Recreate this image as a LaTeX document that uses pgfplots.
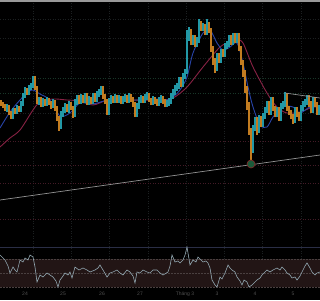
\documentclass[border=0pt]{standalone}
\usepackage{pgfplots}
\pgfplotsset{compat=1.18}
\usepackage{fontspec}
\setmainfont{Liberation Sans}
\definecolor{upc}{HTML}{2298A6}
\definecolor{dnc}{HTML}{C27C20}
\definecolor{gridc}{HTML}{1C2021}
\definecolor{grnl}{HTML}{183628}
\definecolor{redl}{HTML}{431A26}
\definecolor{mablue}{HTML}{2844A8}
\definecolor{mared}{HTML}{882244}
\definecolor{rsic}{HTML}{93A8B2}
\definecolor{bandc}{HTML}{221515}
\definecolor{sepc}{HTML}{2A2E46}
\definecolor{labc}{HTML}{505050}
\definecolor{circf}{HTML}{1B5A3A}
\definecolor{circd}{HTML}{8A2A2A}
\definecolor{bandl}{HTML}{4A4040}
\begin{document}
\begin{tikzpicture}
\fill[black] (0,0) rectangle (320pt,300pt);
\begin{axis}[
  scale only axis, width=320pt, height=300pt,
  xmin=0, xmax=320, ymin=0, ymax=300, y dir=reverse,
  hide axis, clip=true,
]
% top line
\addplot[color=gray!80, line width=1.5pt] coordinates {(0,1) (320,1)};
% vertical grid
\foreach \vx in {33,71,109,148,186,224,262,301} {
  \edef\tmp{\noexpand\addplot[gridc, line width=0.6pt, dash pattern=on 1pt off 1.5pt] coordinates {(\vx,3) (\vx,288)};}
  \tmp
}
% horizontal levels
\foreach \hy in {19,38,58,113} {
  \edef\tmp{\noexpand\addplot[gridc, line width=0.6pt, dash pattern=on 1pt off 1.5pt] coordinates {(0,\hy) (320,\hy)};}
  \tmp
}
\foreach \hy in {78,93} {
  \edef\tmp{\noexpand\addplot[grnl, line width=0.6pt, dash pattern=on 1pt off 1.5pt] coordinates {(0,\hy) (320,\hy)};}
  \tmp
}
\foreach \hy in {141,165,183,219} {
  \edef\tmp{\noexpand\addplot[redl, line width=0.6pt, dash pattern=on 1pt off 1.5pt] coordinates {(0,\hy) (320,\hy)};}
  \tmp
}
% separator
\addplot[sepc, line width=0.8pt] coordinates {(0,247) (320,247)};
% RSI band
\addplot[draw=none, fill=bandc] coordinates {(0,259) (320,259) (320,287) (0,287)} --cycle;
\addplot[bandl, line width=0.5pt, dash pattern=on 1.5pt off 1.5pt] coordinates {(0,259) (320,259)};
\addplot[bandl, line width=0.5pt, dash pattern=on 1.5pt off 1.5pt] coordinates {(0,273) (320,273)};
\addplot[bandl, line width=0.5pt, dash pattern=on 1.5pt off 1.5pt] coordinates {(0,287) (320,287)};
% long trendline
\addplot[gray!85, line width=0.7pt] coordinates {(0,200) (320,155)};
% MAs
\addplot[mared, line width=0.9pt, smooth] coordinates {(0,147) (10,138) (20,130) (33,110) (40,102) (53,99) (67,100) (80,101) (93,105) (107,100) (120,97) (133,100) (160,100) (173,98) (187,87) (203,67) (220,47) (230,42) (237,40) (243,43) (253,67) (267,93) (277,107) (287,113) (300,112) (313,107) (320,107)};
\addplot[mablue, line width=0.9pt, smooth] coordinates {(0,128) (10,112) (20,100) (28,92) (33,90) (40,94) (50,100) (60,116) (70,113) (80,103) (93,104) (107,100) (120,97) (133,100) (160,99) (167,100) (174,96) (180,90) (187,77) (193,53) (203,33) (210,30) (217,43) (223,50) (230,47) (237,43) (243,63) (248,87) (253,107) (260,125) (267,127) (273,117) (283,107) (293,107) (300,113) (310,107) (320,107)};
% down candles
\addplot[dnc, line width=1.05pt, quiver={u=0, v=\thisrow{b}-\thisrow{t}}] table[x=x, y=t] {
x t b
1 100 106
3 102 108
5 104 111
9 105 115
11 111 119
15 108 114
19 106 112
27 88 95
35 76 90
37 86 104
41 97 107
45 99 106
49 98 105
51 101 109
55 100 111
57 106 121
59 116 131
67 104 112
71 102 110
73 106 118
79 95 104
83 95 103
87 93 105
91 97 104
95 93 102
103 86 99
105 94 104
107 99 115
113 96 103
117 95 103
121 96 104
127 95 103
131 94 102
133 97 107
135 102 117
143 96 103
149 93 102
151 98 105
155 97 104
157 99 106
163 96 104
165 99 107
181 77 87
191 29 45
195 35 47
201 21 31
205 24 35
209 22 33
211 28 52
213 46 65
215 58 73
219 53 63
223 49 57
231 35 45
235 33 43
239 33 51
241 46 65
243 60 77
245 70 93
247 86 110
249 102 135
251 128 160
257 117 135
261 116 127
269 101 115
273 97 111
275 106 117
279 107 121
287 93 111
289 106 115
291 110 119
293 114 124
297 107 117
299 112 121
309 95 107
311 101 113
315 97 107
317 102 115
};
% up candles
\addplot[upc, line width=1.05pt, quiver={u=0, v=\thisrow{b}-\thisrow{t}}] table[x=x, y=t] {
x t b
7 104 112
13 108 119
17 105 114
21 101 112
23 93 106
25 87 98
29 85 95
31 83 90
33 76 88
39 97 105
43 98 107
47 97 106
53 99 108
61 111 129
63 107 117
65 103 113
69 101 113
75 99 117
77 95 105
81 94 104
85 93 103
89 96 105
93 93 104
97 91 102
99 89 97
101 86 95
109 98 115
111 95 104
115 94 103
119 95 103
123 96 104
125 94 102
129 93 103
137 103 117
139 97 109
141 95 103
145 94 103
147 92 100
153 96 105
159 97 106
161 95 103
167 100 107
169 98 106
171 93 104
173 89 99
175 85 95
177 83 91
179 77 89
183 73 87
185 69 79
187 30 74
189 27 41
193 35 45
197 37 47
199 19 43
203 23 31
207 19 35
217 53 71
221 49 63
225 43 57
227 41 49
229 35 47
233 33 45
237 33 43
253 125 153
255 117 131
259 115 133
263 113 127
265 107 119
267 101 113
271 97 115
277 107 117
281 103 121
283 101 109
285 92 107
295 107 123
301 105 121
303 101 111
305 99 107
307 95 105
313 97 113
319 105 115
};
% short trendline
\addplot[gray!85, line width=0.7pt] coordinates {(285,93) (320,98)};
% circle marker at low
\addplot[only marks, mark=*, mark size=4pt, mark options={fill=circf, draw=circd, line width=0.6pt}] coordinates {(251,164)};
% RSI
\addplot[rsic, line width=0.6pt] coordinates {(0,255) (3,258) (5,260) (8,266) (10,273) (13,267) (15,270) (17,272) (20,260) (23,262) (25,258) (28,260) (30,255) (33,257) (35,267) (37,282) (40,275) (43,277) (47,273) (50,275) (53,277) (56,281) (58,287) (60,280) (63,276) (65,273) (68,275) (70,272) (72,278) (75,267) (79,270) (83,268) (87,270) (90,272) (95,270) (98,268) (100,265) (103,270) (107,277) (110,273) (113,272) (117,270) (120,273) (123,275) (127,270) (130,272) (133,276) (135,283) (137,272) (140,273) (143,270) (147,272) (150,273) (153,270) (157,270) (160,273) (163,275) (168,272) (170,266) (172,255) (175,262) (178,261) (180,263) (183,260) (185,255) (187,247) (190,265) (193,260) (196,262) (198,257) (201,260) (203,262) (206,261) (208,263) (210,268) (212,280) (215,285) (217,287) (220,277) (222,279) (225,273) (228,265) (230,268) (232,270) (235,272) (237,277) (240,281) (242,285) (244,280) (247,282) (249,287) (252,285) (255,282) (257,280) (260,278) (262,275) (265,272) (267,270) (270,272) (273,270) (277,268) (280,270) (282,267) (285,270) (287,273) (290,275) (292,278) (295,277) (297,280) (300,276) (302,272) (305,266) (307,263) (310,268) (312,272) (315,275) (317,273) (320,272)};
% date labels
\foreach \lx/\lt in {25/24,63/25,102/26,140/27,185/{Tháng 3},217/3,255/4,293/5} {
  \edef\tmp{\noexpand\node[font=\noexpand\fontsize{5}{6}\noexpand\selectfont, text=labc, inner sep=0pt] at (axis cs:\lx,294) {\lt};}
  \tmp
}
\end{axis}
\end{tikzpicture}
\end{document}
